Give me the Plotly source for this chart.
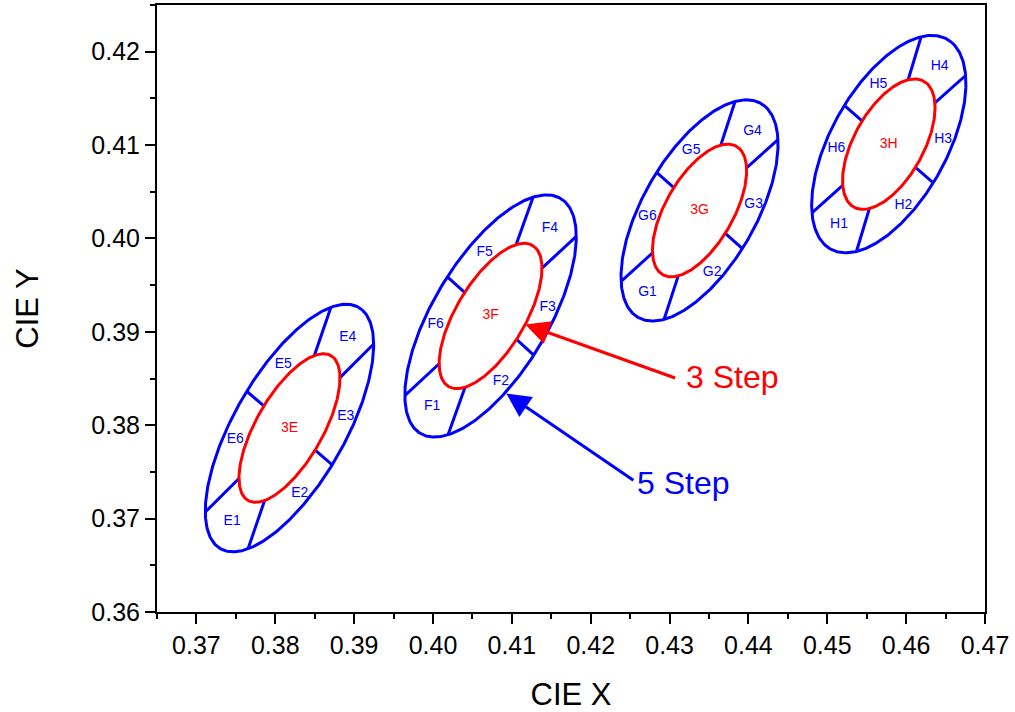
import numpy as np
import plotly.graph_objects as go

# --- data ---
names = ["E", "F", "G", "H"]
center_x = [0.3818, 0.4073, 0.4338, 0.4578]
center_y = [0.3797, 0.3917, 0.4030, 0.4101]
axis_a = [0.00313, 0.00309, 0.00278, 0.00270]   # 1-step semi-major
axis_b = [0.00134, 0.00138, 0.00136, 0.00140]   # 1-step semi-minor
tilt_deg = [54.0, 52.58, 53.13, 53.7]
inner_steps = 3
outer_steps = 5
divider_t = [30, 90, 150, 210, 270, 330]          # parametric angles of bin dividers
segment_numbers = [1, 2, 3, 4, 5, 6]
label_t = [180, 248, 294, -3, 65, 114]            # parametric angle of bin labels
label_r = [3.95, 4.15, 4.1, 3.9, 3.8, 3.95]       # label radius in steps

arrow_names = ["3 Step", "5 Step"]
arrow_colors = ["#ff0000", "#0000ff"]
arrow_tip_x = [0.4117, 0.4093]
arrow_tip_y = [0.3908, 0.3834]
arrow_tail_x = [0.4309, 0.4256]
arrow_tail_y = [0.3850, 0.3740]
arrow_text_x = [0.4380, 0.4318]
arrow_text_y = [0.3852, 0.3738]

x_ticks = [0.37, 0.38, 0.39, 0.40, 0.41, 0.42, 0.43, 0.44, 0.45, 0.46, 0.47]
y_ticks = [0.36, 0.37, 0.38, 0.39, 0.40, 0.41, 0.42]

BLUE = "#0000ff"
RED = "#ff0000"
FONT = "Liberation Sans, Arial, sans-serif"


def ellipse_point(i, t_deg, k):
    th = np.radians(tilt_deg[i])
    t = np.radians(t_deg)
    p = k * axis_a[i] * np.cos(t)
    q = k * axis_b[i] * np.sin(t)
    x = center_x[i] + p * np.cos(th) - q * np.sin(th)
    y = center_y[i] + p * np.sin(th) + q * np.cos(th)
    return x, y


fig = go.Figure()
tt = np.linspace(0, 360, 361)

for i, nm in enumerate(names):
    ox, oy = ellipse_point(i, tt, outer_steps)
    fig.add_trace(go.Scatter(x=ox, y=oy, mode="lines",
                             line=dict(color=BLUE, width=3), hoverinfo="skip"))
    dx, dy = [], []
    for t in divider_t:
        x1, y1 = ellipse_point(i, t, inner_steps)
        x2, y2 = ellipse_point(i, t, outer_steps)
        dx += [x1, x2, None]
        dy += [y1, y2, None]
    fig.add_trace(go.Scatter(x=dx, y=dy, mode="lines",
                             line=dict(color=BLUE, width=3), hoverinfo="skip"))
    ix, iy = ellipse_point(i, tt, inner_steps)
    fig.add_trace(go.Scatter(x=ix, y=iy, mode="lines",
                             line=dict(color=RED, width=3), hoverinfo="skip"))
    lx, ly, lt = [], [], []
    for n, t, r in zip(segment_numbers, label_t, label_r):
        px, py = ellipse_point(i, t, r)
        lx.append(px)
        ly.append(py)
        lt.append(f"{nm}{n}")
    fig.add_trace(go.Scatter(x=lx, y=ly, text=lt, mode="text",
                             textfont=dict(color=BLUE, size=14, family=FONT),
                             hoverinfo="skip"))
    fig.add_trace(go.Scatter(x=[center_x[i]], y=[center_y[i]], text=[f"3{nm}"],
                             mode="text",
                             textfont=dict(color=RED, size=14, family=FONT),
                             hoverinfo="skip"))

for j, txt in enumerate(arrow_names):
    fig.add_annotation(x=arrow_tip_x[j], y=arrow_tip_y[j], ax=arrow_tail_x[j], ay=arrow_tail_y[j],
                       xref="x", yref="y", axref="x", ayref="y", text="",
                       showarrow=True, arrowhead=2, arrowsize=1.6, arrowwidth=3,
                       arrowcolor=arrow_colors[j], standoff=0)
    fig.add_annotation(x=arrow_text_x[j], y=arrow_text_y[j], xref="x", yref="y",
                       text=txt, showarrow=False,
                       font=dict(color=arrow_colors[j], size=32, family=FONT))

axis_common = dict(
    showgrid=False, zeroline=False, showline=True, linecolor="black", linewidth=2,
    mirror=True, ticks="outside", ticklen=10, tickwidth=2, tickcolor="black",
    tickformat=".2f", tickfont=dict(size=25, family=FONT, color="black"),
    minor=dict(ticks="outside", ticklen=5, tickwidth=2, tickcolor="black", dtick=0.005),
    automargin=False,
)

fig.update_xaxes(range=[0.365, 0.470001], tickvals=x_ticks,
                 title=dict(text="CIE X", font=dict(size=31, family=FONT, color="black"), standoff=31),
                 **axis_common)
fig.update_yaxes(range=[0.36, 0.425], tickvals=y_ticks,
                 title=dict(text="CIE Y", font=dict(size=31, family=FONT, color="black"), standoff=43),
                 **axis_common)

fig.update_layout(
    width=1015, height=712,
    margin=dict(l=157, r=30, t=5, b=100),
    plot_bgcolor="white", paper_bgcolor="white",
    showlegend=False,
    font=dict(family=FONT),
)

fig.write_html("out.html", config={"displayModeBar": False},
               post_script="document.body.style.margin='0px';document.body.style.overflow='hidden';")
